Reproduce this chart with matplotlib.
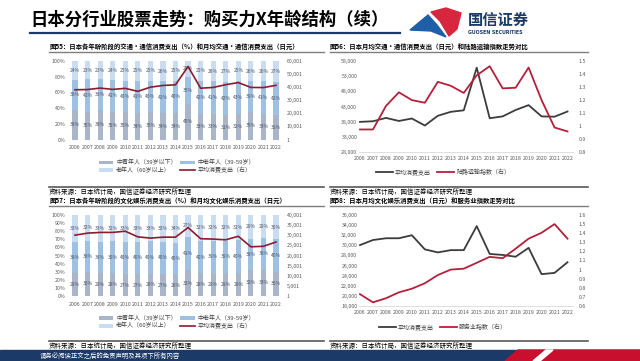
import numpy as np
import matplotlib
matplotlib.use('Agg')
import matplotlib.pyplot as plt
from matplotlib.patches import Polygon, Rectangle
from matplotlib.lines import Line2D

plt.rcParams['font.family'] = ['Noto Sans CJK SC', 'DejaVu Sans']

W, H = 640, 361

years = list(range(2006, 2023))
year_labels = [str(y) for y in years]

# 图55: transport & communication share by age group (%) and monthly spend (yen)
trans_young = [38, 35, 38, 35, 35, 34, 35, 34, 34, 45, 33, 33, 31, 32, 35, 33, 31]
trans_mid = [38, 41, 39, 41, 40, 41, 40, 41, 40, 35, 42, 41, 42, 43, 39, 41, 42]
trans_old = [24, 23, 23, 24, 25, 25, 25, 26, 25, 20, 25, 26, 27, 25, 26, 26, 27]
trans_spend = [38000, 38200, 39300, 38300, 39100, 36800, 40000, 41300, 41800, 55800,
               39200, 39800, 41900, 43500, 39800, 39700, 41400]

# 图56: land transport index
land_index = [0.975, 0.975, 1.155, 1.26, 1.2, 1.18, 1.34, 1.31, 1.255, 1.39,
              1.46, 1.29, 1.295, 1.45, 1.2, 0.99, 0.96]

# 图57: culture & entertainment share by age group (%) and monthly spend (yen)
cult_young = [29, 30, 29, 28, 27, 27, 28, 27, 26, 32, 28, 29, 29, 29, 32, 33, 30]
cult_mid = [38, 38, 38, 39, 40, 40, 40, 40, 40, 41, 40, 39, 39, 40, 38, 38, 40]
cult_old = [33, 32, 33, 32, 33, 33, 33, 33, 34, 27, 32, 32, 32, 31, 29, 29, 30]
cult_spend = [30050, 31050, 31400, 31400, 32000, 29200, 28600, 29050, 29050, 33800,
              28300, 28100, 27750, 29500, 24300, 24550, 26650]

# 图58: service industry index
service_index = [0.73, 0.64, 0.685, 0.75, 0.79, 0.85, 0.94, 1.0, 1.01, 1.075,
                 1.14, 1.125, 1.23, 1.34, 1.405, 1.5, 1.34]

c_young = '#a9b5c8'
c_mid = '#9ec0e3'
c_old = '#cadcef'
c_line = '#8b1c2f'
c_black = '#3c3c3c'
c_red = '#b5203a'
navy = '#1c3a68'
tick_c = '#595959'
fs_tick = 3.8
fs_leg = 4.3

fig = plt.figure(figsize=(6.4, 3.61), dpi=100)


def ax_at(x0, y0, x1, y1):
    return fig.add_axes([x0 / W, 1 - y1 / H, (x1 - x0) / W, (y1 - y0) / H])


def fx(x):
    return x / W


def fy(y):
    return 1 - y / H


def hline(x0, x1, y, color, lw):
    fig.add_artist(Line2D([fx(x0), fx(x1)], [fy(y), fy(y)], color=color, lw=lw))


def clean(ax):
    for s in ax.spines.values():
        s.set_visible(False)
    ax.tick_params(length=0, labelsize=fs_tick, colors=tick_c)


def bar_panel(ax, young, mid, old, spend, right_max, right_step, left_step):
    x = np.arange(len(years))
    tot = np.array(young) + np.array(mid) + np.array(old)
    y_ = np.array(young) / tot * 100
    m_ = np.array(mid) / tot * 100
    o_ = np.array(old) / tot * 100
    b1 = ax.bar(x, y_, width=0.42, color=c_young, label='中青年人（39岁以下）')
    b2 = ax.bar(x, m_, width=0.42, bottom=y_, color=c_mid, label='中老年人（39-59岁）')
    b3 = ax.bar(x, o_, width=0.42, bottom=y_ + m_, color=c_old, label='老年人（60岁以上）')
    for i in range(len(x)):
        for base, h, v in [(0, y_[i], young[i]), (y_[i], m_[i], mid[i]),
                           (y_[i] + m_[i], o_[i], old[i])]:
            ax.text(x[i], base + h / 2, f'{v}%', ha='center', va='center',
                    fontsize=3.5, color='#4a5568')
    ax.set_xlim(-0.6, len(x) - 0.4)
    ax.set_ylim(0, 100)
    ax.set_yticks(np.arange(0, 101, left_step))
    ax.set_yticklabels([f'{v}%' for v in range(0, 101, left_step)])
    ax.set_xticks(x)
    ax.set_xticklabels(year_labels)
    clean(ax)
    ax.tick_params(axis='x', pad=4)
    ax.tick_params(axis='y', pad=1.5)
    ax2 = ax.twinx()
    l1, = ax2.plot(x, spend, color=c_line, lw=1.2, label='平均消费支出（右）')
    ax2.set_ylim(1, right_max + 1)
    rt = np.arange(0, right_max + 1, right_step) + 1
    ax2.set_yticks(rt)
    ax2.set_yticklabels([f'{v:,}' for v in rt])
    clean(ax2)
    ax2.tick_params(axis='y', pad=2.5)
    return [b1, b3, b2, l1]


def line_panel(ax, spend, index, ylo, yhi, ystep, rlo, rhi, rname):
    l1, = ax.plot(years, spend, color=c_black, lw=1.3, label='平均消费支出')
    ax.set_xlim(2005.9, 2022.4)
    ax.set_ylim(ylo, yhi)
    ax.set_yticks(np.arange(ylo, yhi + 1, ystep))
    ax.set_yticklabels([f'{v:,}' for v in np.arange(ylo, yhi + 1, ystep)])
    ax.set_xticks(years)
    ax.set_xticklabels(year_labels)
    clean(ax)
    ax.spines['bottom'].set_visible(True)
    ax.spines['bottom'].set_color('#d9d9d9')
    ax.spines['bottom'].set_linewidth(0.6)
    ax.tick_params(axis='x', pad=3)
    ax.tick_params(axis='y', pad=1)
    ax2 = ax.twinx()
    l2, = ax2.plot(years, index, color=c_red, lw=1.3, label=rname)
    ax2.set_ylim(rlo, rhi)
    rt = np.round(np.arange(rlo, rhi + 0.001, 0.1), 1)
    ax2.set_yticks(rt)
    ax2.set_yticklabels([('1' if abs(v - 1) < 1e-9 else f'{v:.1f}') for v in rt])
    clean(ax2)
    ax2.tick_params(axis='y', pad=4)
    return [l1, l2]


# ---- header ----
fig.text(fx(30), fy(20), '日本分行业股票走势：购买力X年龄结构（续）', fontsize=12.5,
         weight='bold', va='center', ha='left', color='black')
hline(30, 400, 33, navy, 1.6)
fig.add_artist(Polygon([(fx(410), fy(30)), (fx(428), fy(15)), (fx(437), fy(25)),
                        (fx(446), fy(37)), (fx(431), fy(31))], closed=True,
                       color='#1f5fa8', transform=fig.transFigure))
fig.add_artist(Polygon([(fx(431), fy(12)), (fx(446), fy(8)), (fx(461), fy(13)),
                        (fx(457), fy(29)), (fx(449), fy(36)), (fx(440), fy(21))],
                       closed=True, color='#d7263d', transform=fig.transFigure))
fig.text(fx(468), fy(20), '国信证券', fontsize=11, weight='bold', color=navy,
         va='center', ha='left')
fig.text(fx(468), fy(33), 'GUOSEN SECURITIES', fontsize=3.4, weight='bold',
         color=navy, va='center', ha='left', family='DejaVu Sans')

# ---- panel titles and rules ----
titles = [
    (49, 46, '图55：日本各年龄阶段的交通·通信消费支出（%）和月均交通·通信消费支出（日元）'),
    (330, 46, '图56：日本月均交通·通信消费支出（日元）和陆路运输指数走势对比'),
    (49, 200, '图57：日本各年龄阶段的文化娱乐消费支出（%）和月均文化娱乐消费支出（日元）'),
    (330, 200, '图58：日本月均文化娱乐消费支出（日元）和服务业指数走势对比'),
]
for x, y, t in titles:
    fig.text(fx(x), fy(y), t, fontsize=4.6, weight='bold', va='center', ha='left')
for y in (52, 206):
    hline(49, 324, y, '#7f7f7f', 1.0)
    hline(330, 588, y, '#7f7f7f', 1.0)
for y in (187, 341):
    hline(49, 324, y, '#595959', 1.2)
    hline(330, 588, y, '#595959', 1.2)
for y in (191.5, 345.5):
    for x in (49, 330):
        fig.text(fx(x), fy(y), '资料来源：日本统计局，国信证券经济研究所整理',
                 fontsize=4.7, va='center', ha='left', color='black')

# ---- charts ----
ax55 = ax_at(67.5, 61, 283.5, 139.5)
h = bar_panel(ax55, trans_young, trans_mid, trans_old, trans_spend, 60000, 10000, 20)
ax55.legend(h, [a.get_label() for a in h], ncol=2, frameon=False, fontsize=fs_leg,
            loc='center', bbox_to_anchor=(fx(177), fy(166.5)),
            bbox_transform=fig.transFigure, handlelength=2.4, handleheight=0.6,
            columnspacing=0.6, handletextpad=0.5, labelspacing=0.25,
            labelcolor='#404040')

ax57 = ax_at(67.5, 215, 283.5, 296)
h = bar_panel(ax57, cult_young, cult_mid, cult_old, cult_spend, 40000, 5000, 10)
ax57.legend(h, [a.get_label() for a in h], ncol=2, frameon=False, fontsize=fs_leg,
            loc='center', bbox_to_anchor=(fx(177), fy(322)),
            bbox_transform=fig.transFigure, handlelength=2.4, handleheight=0.6,
            columnspacing=0.6, handletextpad=0.5, labelspacing=0.25,
            labelcolor='#404040')

ax56 = ax_at(358.7, 61, 572.7, 152.3)
h = line_panel(ax56, trans_spend, land_index, 28000, 58000, 5000, 0.8, 1.5,
               '陆路运输指数（右）')
ax56.legend(h, [a.get_label() for a in h], ncol=2, frameon=False, fontsize=fs_leg,
            loc='center', bbox_to_anchor=(fx(443), fy(172)),
            bbox_transform=fig.transFigure, handlelength=2.8,
            columnspacing=1.0, handletextpad=0.4, labelcolor='#404040')

ax58 = ax_at(358.7, 215, 572.7, 306)
h = line_panel(ax58, cult_spend, service_index, 18000, 36000, 2000, 0.6, 1.6,
               '服务业指数（右）')
ax58.legend(h, [a.get_label() for a in h], ncol=2, frameon=False, fontsize=fs_leg,
            loc='center', bbox_to_anchor=(fx(443), fy(327)),
            bbox_transform=fig.transFigure, handlelength=2.8,
            columnspacing=1.0, handletextpad=0.4, labelcolor='#404040')

# ---- footer ----
fig.add_artist(Rectangle((0, 0), 1, (H - 350) / H, color=navy,
                         transform=fig.transFigure))
fig.add_artist(Polygon([(fx(505), 0), (fx(518), fy(350)), (1, fy(350)), (1, 0)],
                       closed=True, color='#c8102e', transform=fig.transFigure))
fig.add_artist(Polygon([(fx(533), 0), (fx(546), fy(350)), (fx(553), fy(350)),
                        (fx(540), 0)], closed=True, color='white',
                       transform=fig.transFigure))
fig.text(fx(40), fy(355.5), '请务必阅读正文之后的免责声明及其项下所有内容', fontsize=4.6,
         color='white', va='center', ha='left')

fig.savefig('out.png', dpi=100)
